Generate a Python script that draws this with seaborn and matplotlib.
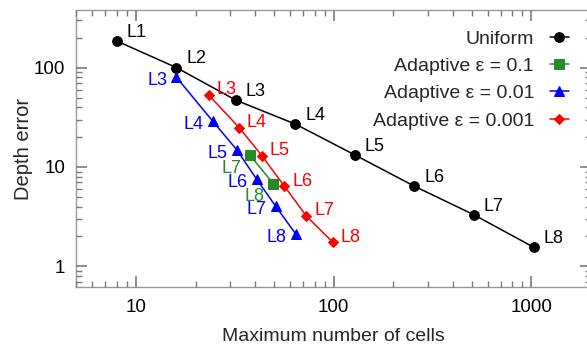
import pandas as pd
import seaborn as sns
import matplotlib
matplotlib.use('Agg')
import matplotlib.pyplot as plt
from matplotlib.ticker import FuncFormatter, NullFormatter

# Values
levels_uniform = ['L1', 'L2', 'L3', 'L4', 'L5', 'L6', 'L7', 'L8']
cells_uniform = [8, 16, 32, 64, 128, 256, 512, 1024]
error_uniform = [185, 100, 47, 27, 13.2, 6.4, 3.3, 1.56]

levels_e01 = ['L7', 'L8']
cells_e01 = [37.7, 49.5]
error_e01 = [13.1, 6.8]

levels_e001 = ['L3', 'L4', 'L5', 'L6', 'L7', 'L8']
cells_e001 = [16, 24.4, 32.4, 40.8, 50.8, 64.1]
error_e001 = [80, 29, 14.8, 7.5, 4.04, 2.13]

levels_e0001 = ['L3', 'L4', 'L5', 'L6', 'L7', 'L8']
cells_e0001 = [23.3, 33.3, 43.3, 56.3, 72.8, 98.9]
error_e0001 = [53, 24.8, 13, 6.4, 3.2, 1.75]

series = [
    # name, levels, x, y, colour, marker, size, label offset (pt), ha
    ('Uniform', levels_uniform, cells_uniform, error_uniform, 'black', 'o', 7, (7, 3), 'left'),
    ('Adaptive ε = 0.1', levels_e01, cells_e01, error_e01, '#2a8a2a', 's', 6.5, (-6.5, -12.8), 'right'),
    ('Adaptive ε = 0.01', levels_e001, cells_e001, error_e001, 'blue', '^', 7, (-6.5, -5.8), 'right'),
    ('Adaptive ε = 0.001', levels_e0001, cells_e0001, error_e0001, 'red', 'D', 5.5, (5.5, 0.5), 'left'),
]

sns.set_style('ticks')
plt.rcParams['font.family'] = ['Liberation Sans', 'DejaVu Sans']

fig = plt.figure(figsize=(5.87, 3.52), dpi=100)
ax = fig.add_axes([0.1303, 0.1847, 0.8765, 0.787])

for name, lv, xs, ys, col, mk, ms, off, ha in series:
    df = pd.DataFrame({'cells': xs, 'error': ys})
    sns.lineplot(data=df, x='cells', y='error', color=col, marker=mk, markersize=ms,
                 markeredgecolor=col, linewidth=1.1, label=name, ax=ax)
    for t, x, y in zip(lv, xs, ys):
        ax.annotate(t, (x, y), xytext=off, textcoords='offset points', color=col,
                    ha=ha, va='baseline', fontsize=13)

ax.set_xscale('log')
ax.set_yscale('log')
ax.set_xlim(5, 2000)
ax.set_ylim(0.62, 380)

fmt = FuncFormatter(lambda v, _: f'{v:g}')
ax.xaxis.set_major_formatter(fmt)
ax.yaxis.set_major_formatter(fmt)
ax.xaxis.set_minor_formatter(NullFormatter())
ax.yaxis.set_minor_formatter(NullFormatter())

# inward grey ticks on every side
ax.tick_params(which='both', direction='in', top=True, right=True, bottom=True, left=True,
               color='#7a7a7a', labelcolor='black')
ax.tick_params(which='major', length=8, width=1.2, labelsize=13.5)
ax.tick_params(which='minor', length=4.5, width=1.0)
ax.tick_params(axis='x', which='major', pad=9)
ax.tick_params(axis='y', which='major', pad=8)
for s in ax.spines.values():
    s.set_color('#999999')
    s.set_linewidth(1.0)
    s.set_zorder(0.5)

ax.set_xlabel('Maximum number of cells', fontsize=14, labelpad=8)
ax.set_ylabel('Depth error', fontsize=14.5, labelpad=1)

ax.legend(loc='upper right', bbox_to_anchor=(0.98, 0.97), frameon=False, markerfirst=False,
          fontsize=14, handlelength=1.0, handletextpad=0.8, labelspacing=0.5,
          borderaxespad=0.2)

fig.savefig('out.png', dpi=100)
